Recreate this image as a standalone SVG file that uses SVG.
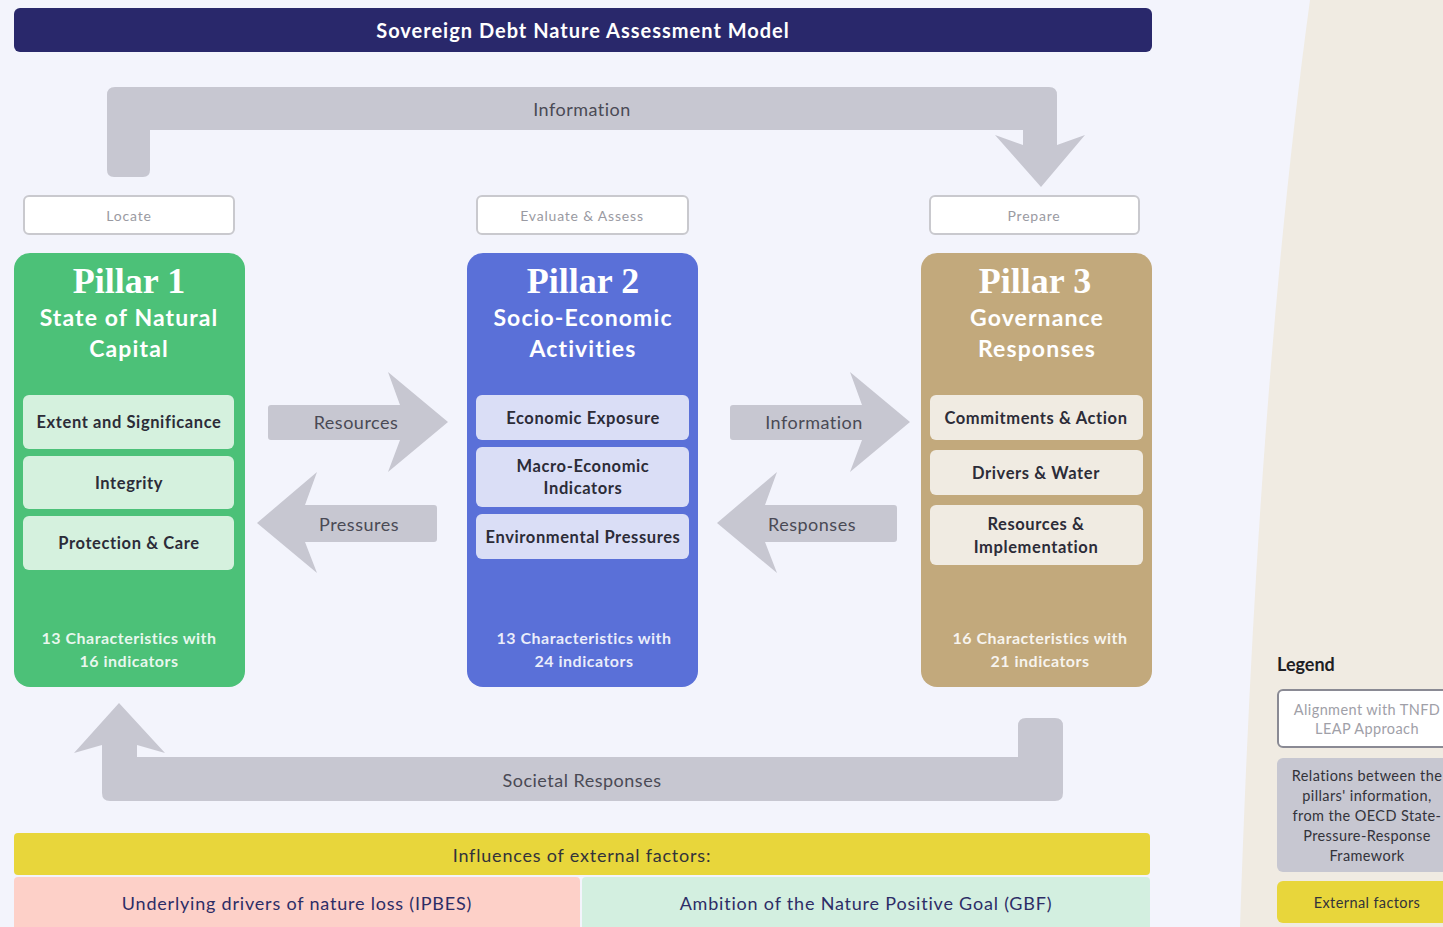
<svg xmlns="http://www.w3.org/2000/svg" width="1443" height="927" viewBox="0 0 1443 927">
  <style>
    .sans { font-family: Lato, "Noto Sans", "Liberation Sans", sans-serif; }
    .flow { fill: #c7c7d1; }
    .flowtxt { font-family: Lato, "Noto Sans", "Liberation Sans", sans-serif; font-size: 18px; letter-spacing: 0.5px; fill: #4a4a55; text-anchor: middle; dominant-baseline: central; }
    .stage rect { fill: #ffffff; stroke: #c9c9ce; stroke-width: 2; }
    .stage text { font-family: Lato, "Noto Sans", "Liberation Sans", sans-serif; font-size: 14px; letter-spacing: 0.8px; fill: #9a9aa2; text-anchor: middle; dominant-baseline: central; }
    .ptitle { font-family: "Liberation Serif", "DejaVu Serif", serif; font-weight: bold; font-size: 36px; fill: #ffffff; text-anchor: middle; }
    .psub { font-family: Lato, "Noto Sans", "Liberation Sans", sans-serif; font-weight: bold; font-size: 23px; fill: #ffffff; text-anchor: middle; letter-spacing: 1.1px; }
    .item { font-family: Lato, "Noto Sans", "Liberation Sans", sans-serif; font-weight: bold; font-size: 16.5px; letter-spacing: 0.6px; fill: #2c2c38; text-anchor: middle; dominant-baseline: central; }
    .foot { font-family: Lato, "Noto Sans", "Liberation Sans", sans-serif; font-weight: bold; font-size: 16px; letter-spacing: 0.5px; fill: #ffffff; fill-opacity: 0.88; text-anchor: middle; dominant-baseline: central; }
    .ext { font-family: Lato, "Noto Sans", "Liberation Sans", sans-serif; font-size: 18px; letter-spacing: 0.8px; text-anchor: middle; dominant-baseline: central; }
    .leg { font-family: Lato, "Noto Sans", "Liberation Sans", sans-serif; font-size: 14.5px; letter-spacing: 0.4px; text-anchor: middle; dominant-baseline: central; }
  </style>

  <!-- page background and beige side panel -->
  <rect x="0" y="0" width="1443" height="927" fill="#f3f4fc"/>
  <path d="M1310,0 Q1258,380 1240,927 L1443,927 L1443,0 Z" fill="#f0ebe2"/>

  <!-- title bar -->
  <g id="title">
    <rect x="14" y="8" width="1138" height="44" rx="6" fill="#29286b"/>
    <text x="583" y="30" class="sans" font-size="20" font-weight="bold" letter-spacing="1" fill="#ffffff" text-anchor="middle" dominant-baseline="central">Sovereign Debt Nature Assessment Model</text>
  </g>

  <!-- connectors -->
  <g id="connectors">
    <g id="info-top">
      <path class="flow" d="M107,95 Q107,87 115,87 L1049,87 Q1057,87 1057,95 L1057,145 L1085,135 L1041,187 L995,135 L1023,145 L1023,130 L150,130 L150,170 Q150,177 143,177 L114,177 Q107,177 107,170 Z"/>
      <text class="flowtxt" x="582" y="109">Information</text>
    </g>
    <g id="resources">
      <path class="flow" d="M271,405 L400,405 L388,372 L448,422 L388,472 L400,440 L271,440 Q268,440 268,437 L268,408 Q268,405 271,405 Z"/>
      <text class="flowtxt" x="356" y="422">Resources</text>
    </g>
    <g id="pressures">
      <path class="flow" d="M434,505 L305,505 L317,472 L257,523 L317,573 L305,542 L434,542 Q437,542 437,539 L437,508 Q437,505 434,505 Z"/>
      <text class="flowtxt" x="359" y="524">Pressures</text>
    </g>
    <g id="information">
      <path class="flow" d="M733,405 L862,405 L850,372 L910,422 L850,472 L862,440 L733,440 Q730,440 730,437 L730,408 Q730,405 733,405 Z"/>
      <text class="flowtxt" x="814" y="422">Information</text>
    </g>
    <g id="responses">
      <path class="flow" d="M894,505 L765,505 L777,472 L717,523 L777,573 L765,542 L894,542 Q897,542 897,539 L897,508 Q897,505 894,505 Z"/>
      <text class="flowtxt" x="812" y="524">Responses</text>
    </g>
    <g id="societal">
      <path class="flow" d="M102,793 L102,745 L74,753 L119,703 L165,753 L137,745 L137,757 L1018,757 L1018,726 Q1018,718 1026,718 L1055,718 Q1063,718 1063,726 L1063,793 Q1063,801 1055,801 L110,801 Q102,801 102,793 Z"/>
      <text class="flowtxt" x="582" y="780">Societal Responses</text>
    </g>
  </g>

  <!-- LEAP stage labels -->
  <g id="stage-locate" class="stage">
    <rect x="24" y="196" width="210" height="38" rx="5"/>
    <text x="129" y="215">Locate</text>
  </g>
  <g id="stage-evaluate" class="stage">
    <rect x="477" y="196" width="211" height="38" rx="5"/>
    <text x="582" y="215">Evaluate &amp; Assess</text>
  </g>
  <g id="stage-prepare" class="stage">
    <rect x="930" y="196" width="209" height="38" rx="5"/>
    <text x="1034" y="215">Prepare</text>
  </g>

  <!-- Pillar 1 -->
  <g id="pillar1">
    <rect x="14" y="253" width="231" height="434" rx="16" fill="#4cc178"/>
    <text class="ptitle" x="129" y="293">Pillar 1</text>
    <text class="psub" x="129" y="326">State of Natural</text>
    <text class="psub" x="129" y="357">Capital</text>
    <rect x="23" y="395" width="211" height="54" rx="6" fill="#d5f1de"/>
    <text class="item" x="129" y="422">Extent and Significance</text>
    <rect x="23" y="456" width="211" height="53" rx="6" fill="#d5f1de"/>
    <text class="item" x="129" y="483">Integrity</text>
    <rect x="23" y="516" width="211" height="54" rx="6" fill="#d5f1de"/>
    <text class="item" x="129" y="543">Protection &amp; Care</text>
    <text class="foot" x="129" y="637">13 Characteristics with</text>
    <text class="foot" x="129" y="660">16 indicators</text>
  </g>

  <!-- Pillar 2 -->
  <g id="pillar2">
    <rect x="467" y="253" width="231" height="434" rx="16" fill="#5a70d8"/>
    <text class="ptitle" x="583" y="293">Pillar 2</text>
    <text class="psub" x="583" y="326">Socio-Economic</text>
    <text class="psub" x="583" y="357">Activities</text>
    <rect x="476" y="395" width="213" height="45" rx="6" fill="#dadef6"/>
    <text class="item" x="583" y="418">Economic Exposure</text>
    <rect x="476" y="447" width="213" height="60" rx="6" fill="#dadef6"/>
    <text class="item" x="583" y="466">Macro-Economic</text>
    <text class="item" x="583" y="488">Indicators</text>
    <rect x="476" y="514" width="213" height="45" rx="6" fill="#dadef6"/>
    <text class="item" x="583" y="537">Environmental Pressures</text>
    <text class="foot" x="584" y="637">13 Characteristics with</text>
    <text class="foot" x="584" y="660">24 indicators</text>
  </g>

  <!-- Pillar 3 -->
  <g id="pillar3">
    <rect x="921" y="253" width="231" height="434" rx="16" fill="#c2a97c"/>
    <text class="ptitle" x="1035" y="293">Pillar 3</text>
    <text class="psub" x="1037" y="326">Governance</text>
    <text class="psub" x="1037" y="357">Responses</text>
    <rect x="930" y="395" width="213" height="45" rx="6" fill="#f0ebe2"/>
    <text class="item" x="1036" y="418">Commitments &amp; Action</text>
    <rect x="930" y="450" width="213" height="45" rx="6" fill="#f0ebe2"/>
    <text class="item" x="1036" y="473">Drivers &amp; Water</text>
    <rect x="930" y="505" width="213" height="60" rx="6" fill="#f0ebe2"/>
    <text class="item" x="1036" y="524">Resources &amp;</text>
    <text class="item" x="1036" y="547">Implementation</text>
    <text class="foot" x="1040" y="637">16 Characteristics with</text>
    <text class="foot" x="1040" y="660">21 indicators</text>
  </g>

  <!-- external factors -->
  <g id="external">
    <rect x="14" y="833" width="1136" height="42" rx="4" fill="#e8d63b"/>
    <text class="ext" x="582" y="855" fill="#33333a">Influences of external factors:</text>
  </g>
  <g id="ipbes">
    <rect x="14" y="877" width="566" height="55" rx="4" fill="#fdd0c8"/>
    <text class="ext" x="297" y="903" fill="#2d2d66">Underlying drivers of nature loss (IPBES)</text>
  </g>
  <g id="gbf">
    <rect x="582" y="877" width="568" height="55" rx="4" fill="#d3efe0"/>
    <text class="ext" x="866" y="903" fill="#2d2d66">Ambition of the Nature Positive Goal (GBF)</text>
  </g>

  <!-- legend -->
  <g id="legend">
    <text x="1277" y="664" class="sans" font-size="18" font-weight="bold" fill="#1e1e24" dominant-baseline="central">Legend</text>
    <rect x="1278" y="690" width="180" height="57" rx="5" fill="#ffffff" stroke="#8a8a94" stroke-width="2"/>
    <text class="leg" x="1367" y="709" fill="#a0a0a8">Alignment with TNFD</text>
    <text class="leg" x="1367" y="728" fill="#a0a0a8">LEAP Approach</text>
    <rect x="1277" y="758" width="180" height="114" rx="6" fill="#c7c7d1"/>
    <text class="leg" x="1367" y="775" fill="#33333a">Relations between the</text>
    <text class="leg" x="1367" y="795" fill="#33333a">pillars' information,</text>
    <text class="leg" x="1367" y="815" fill="#33333a">from the OECD State-</text>
    <text class="leg" x="1367" y="835" fill="#33333a">Pressure-Response</text>
    <text class="leg" x="1367" y="855" fill="#33333a">Framework</text>
    <rect x="1277" y="881" width="180" height="42" rx="6" fill="#e8d63b"/>
    <text class="leg" x="1367" y="902" fill="#33333a">External factors</text>
  </g>
</svg>
